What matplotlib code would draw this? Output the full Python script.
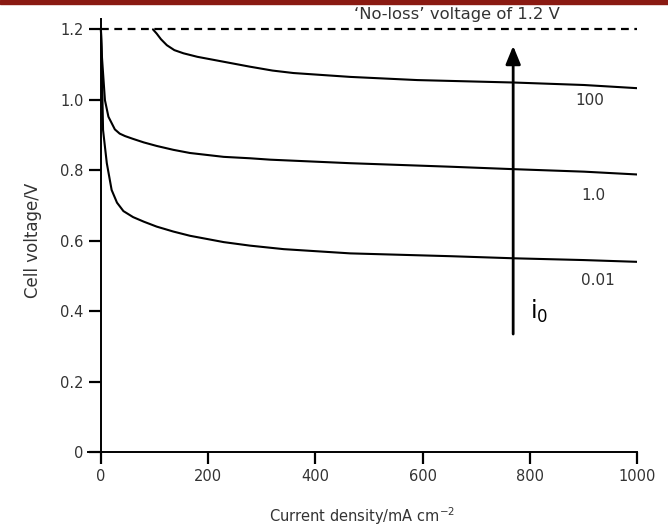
import numpy as np
import matplotlib
matplotlib.use("Agg")
import matplotlib.pyplot as plt
from matplotlib.patches import Rectangle

plt.rcParams["font.family"] = ["DejaVu Sans"]

# ---- data (current density mA/cm2, cell voltage V) ----
x_001 = [0, 1, 4, 11, 20, 30, 42, 60, 80, 104, 135, 166, 229, 278, 341, 465, 652, 771, 901, 1000]
v_001 = [1.2, 1.15, 0.914, 0.82, 0.744, 0.708, 0.684, 0.667, 0.654, 0.640, 0.626, 0.614,
         0.596, 0.586, 0.576, 0.564, 0.556, 0.550, 0.545, 0.540]

x_10 = [0, 2, 7.5, 14, 26, 35, 45, 60, 80, 104, 135, 166, 229, 278, 316, 465, 652, 771, 901, 1000]
v_10 = [1.2, 1.12, 0.999, 0.952, 0.916, 0.904, 0.897, 0.889, 0.879, 0.869, 0.858, 0.849,
        0.838, 0.834, 0.830, 0.820, 0.810, 0.803, 0.796, 0.788]

x_100 = [97, 104, 112, 123, 137, 154, 180, 229, 278, 320, 359, 465, 590, 771, 901, 1000]
v_100 = [1.2, 1.188, 1.172, 1.155, 1.141, 1.132, 1.122, 1.108, 1.094, 1.083, 1.076,
         1.065, 1.056, 1.049, 1.042, 1.033]

curve_labels = ["100", "1.0", "0.01"]
label_pos = [(912, 0.997), (918, 0.727), (927, 0.488)]

no_loss_v = 1.2
x_ticks = [0, 200, 400, 600, 800, 1000]
y_ticks = [0, 0.2, 0.4, 0.6, 0.8, 1.0, 1.2]
y_tick_labels = ["0", "0.2", "0.4", "0.6", "0.8", "1.0", "1.2"]

TXT = "#333333"

fig = plt.figure(figsize=(6.68, 5.29), dpi=100)
fig.patches.append(Rectangle((0, 1 - 3.5 / 529), 1, 3.5 / 529, transform=fig.transFigure,
                             color="#8a1a12", zorder=10))
ax = fig.add_axes([0.131, 0.1255, 0.8226, 0.839])
ax.set_xlim(-25, 1000)
ax.set_ylim(-0.03, 1.23)

for s in ("top", "right"):
    ax.spines[s].set_visible(False)
ax.spines["left"].set_position(("data", 0))
ax.spines["bottom"].set_position(("data", 0))
ax.spines["left"].set_bounds(-0.027, 1.229)
ax.spines["bottom"].set_bounds(-24, 1000)
for s in ("left", "bottom"):
    ax.spines[s].set_linewidth(1.4)

ax.set_xticks(x_ticks)
ax.set_yticks(y_ticks)
ax.set_yticklabels(y_tick_labels)
ax.tick_params(direction="out", length=8.5, width=1.6, labelsize=10.5,
               labelcolor=TXT, pad=4)

# no-loss line
ax.plot([0, 1000], [no_loss_v, no_loss_v], color="black", lw=1.6, ls=(0, (3.5, 2.5)))
ax.text(665, 1.243, "\u2018No-loss\u2019 voltage of 1.2 V", ha="center", va="center",
        fontsize=11.8, color=TXT, clip_on=False)

for xs, vs in ((x_001, v_001), (x_10, v_10), (x_100, v_100)):
    ax.plot(xs, vs, color="black", lw=1.5, solid_capstyle="round", solid_joinstyle="round")

for lab, (lx, ly) in zip(curve_labels, label_pos):
    ax.text(lx, ly, lab, ha="center", va="center", fontsize=11, color=TXT)

# i0 arrow
ax.annotate("", xy=(769, 1.153), xytext=(769, 0.335),
            arrowprops=dict(arrowstyle="-|>,head_length=1.1,head_width=0.45",
                            lw=2, color="black", shrinkA=0, shrinkB=0))
ax.text(800, 0.40, r"i$_0$", fontsize=17, color="black", ha="left", va="center")

ax.set_xlabel("Current density/mA cm$^{-2}$", fontsize=10.5, color=TXT, labelpad=15)
ax.set_ylabel("Cell voltage/V", fontsize=12, color=TXT, labelpad=13)

fig.savefig("out.png", dpi=100)
